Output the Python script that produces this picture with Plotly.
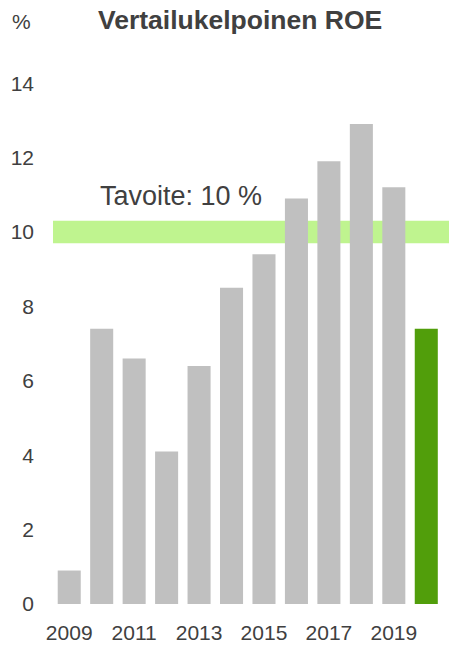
import plotly.graph_objects as go

years = [2009, 2010, 2011, 2012, 2013, 2014, 2015, 2016, 2017, 2018, 2019, 2020]
roe = [0.9, 7.4, 6.6, 4.1, 6.4, 8.5, 9.4, 10.9, 11.9, 12.9, 11.2, 7.4]
bar_colors = ["#C0C0C0"] * 11 + ["#519E0B"]
target_low, target_high = 9.7, 10.3
target_label = "Tavoite: 10 %"
title_text = "Vertailukelpoinen ROE"
unit_text = "%"
x_ticks = [2009, 2011, 2013, 2015, 2017, 2019]
y_ticks = [0, 2, 4, 6, 8, 10, 12, 14]

TXT = "#404040"
FONT = "Liberation Sans, Arial, sans-serif"

fig = go.Figure()
fig.add_trace(go.Bar(x=years, y=roe, marker=dict(color=bar_colors, line=dict(width=0)),
                     width=0.71, hoverinfo="skip"))

fig.add_shape(type="rect", xref="paper", yref="y", x0=0, x1=1,
              y0=target_low, y1=target_high, fillcolor="#BFF48F",
              line=dict(width=0), layer="below")

fig.add_annotation(x=2012.44, y=10.96, xref="x", yref="y", text=target_label,
                   showarrow=False, font=dict(size=27, color=TXT, family=FONT),
                   xanchor="center", yanchor="middle")
fig.add_annotation(x=0.472, y=1.047, xref="paper", yref="paper", text="<b>" + title_text + "</b>",
                   showarrow=False, font=dict(size=26.5, color=TXT, family=FONT),
                   xanchor="center", yanchor="middle")
fig.add_annotation(x=-0.0794, y=1.044, xref="paper", yref="paper", text=unit_text,
                   showarrow=False, font=dict(size=21, color=TXT, family=FONT),
                   xanchor="center", yanchor="middle")

fig.update_layout(
    width=450, height=645,
    margin=dict(l=53, r=0.5, t=45.5, b=37),
    paper_bgcolor="white", plot_bgcolor="white",
    showlegend=False,
    font=dict(family=FONT, color=TXT, size=21),
    xaxis=dict(range=[2008.5, 2020.7], tickvals=x_ticks, ticktext=[str(v) for v in x_ticks],
               showgrid=False, zeroline=False, showline=False, ticks="",
               ticklabelstandoff=14,
               tickfont=dict(size=21, color=TXT)),
    yaxis=dict(range=[0, 15], tickvals=y_ticks, showgrid=False, zeroline=False,
               showline=False, ticks="", ticklabelstandoff=18,
               tickfont=dict(size=21, color=TXT)),
)

fig.write_html("out.html", config={"displayModeBar": False},
               post_script="document.body.style.margin='0';")
